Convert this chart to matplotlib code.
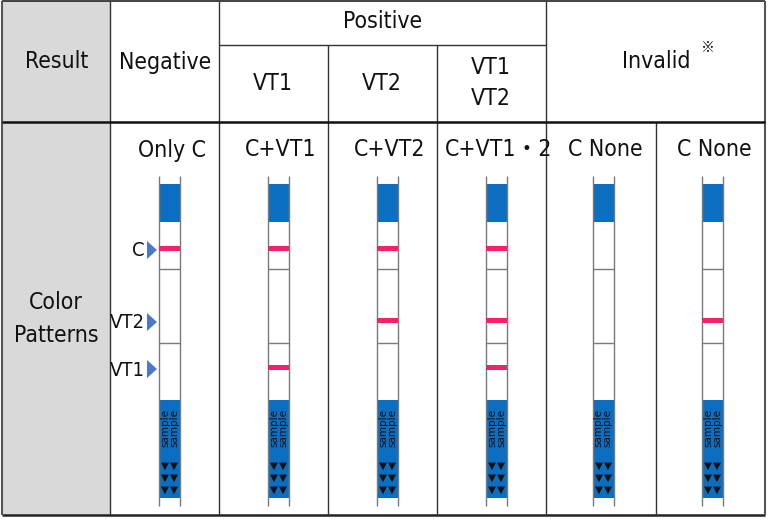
import matplotlib.pyplot as plt
from matplotlib.patches import Rectangle, Polygon

# column layout (pixel edges) and labels
col_edges = [2, 110, 219, 328, 437, 546, 656, 765]
pattern_titles = ['Only C', 'C+VT1', 'C+VT2', 'C+VT1・2', 'C None', 'C None']
# which bands show a line in each strip
pattern_bands = [['C'], ['C', 'VT1'], ['C', 'VT2'], ['C', 'VT2', 'VT1'], [], ['VT2']]
band_names = ['C', 'VT2', 'VT1']
band_y = {'C': 248, 'VT2': 320, 'VT1': 367}

BLUE = '#0b6ec0'
PINK = '#f5216d'
MARK = '#4a78cc'
GREY = '#d9d9d9'
FONT = ['DejaVu Sans', 'Noto Sans CJK JP']

fig = plt.figure(figsize=(7.68, 5.19), dpi=100)
ax = fig.add_axes([0, 0, 1, 1])
ax.set_xlim(0, 768)
ax.set_ylim(519, 0)
ax.axis('off')

top, hdr, bot = 1, 122, 515

# grey first column
ax.add_patch(Rectangle((col_edges[0], top), col_edges[1] - col_edges[0], bot - top,
                       facecolor=GREY, edgecolor='none', zorder=0))

def line(x0, y0, x1, y1, lw=1.0, c='#333333', z=3):
    ax.plot([x0, x1], [y0, y1], color=c, lw=lw, solid_capstyle='butt', zorder=z)

# outer border
line(col_edges[0], top, col_edges[-1], top, 1.2, '#222222')
line(col_edges[0], bot, col_edges[-1], bot, 1.8, '#222222')
line(col_edges[0], top, col_edges[0], bot, 1.5, '#555555')
line(col_edges[-1], top, col_edges[-1], bot, 1.5, '#555555')
# header separator
line(col_edges[0], hdr, col_edges[-1], hdr, 1.8, '#111111', 4)
# vertical grid
for i, x in enumerate(col_edges[1:-1], start=1):
    if i in (3, 4):
        line(x, 45, x, bot)
    elif i == 6:
        line(x, hdr, x, bot)
    else:
        line(x, top, x, bot)
line(col_edges[2], 45, col_edges[5], 45)

def txt(x, y, s, size=16.5, **kw):
    ax.text(x, y, s, fontsize=size, family=FONT, fontstretch='condensed',
            ha='center', va='center', color='#111111', **kw)

# header texts
txt(57, 62, 'Result')
txt(165, 62, 'Negative')
txt(383, 22, 'Positive')
txt(273, 83, 'VT1')
txt(382, 83, 'VT2')
txt(491, 83, 'VT1\nVT2', linespacing=1.45)
txt(656, 62, 'Invalid')
ax.text(708, 48, '※', fontsize=10, ha='center', va='center',
        family=['Noto Sans CJK JP', 'DejaVu Sans'], color='#111111')
txt(56, 319, 'Color\nPatterns', linespacing=1.6)

# strips
strip_w = 21
strip_top, strip_bot = 176, 506
dividers = [269, 343]
for k, (title, bands) in enumerate(zip(pattern_titles, pattern_bands)):
    cx = (col_edges[k + 1] + col_edges[k + 2]) / 2 + 5
    if k >= 4:
        cx -= 3
    x0, x1 = cx - strip_w / 2, cx + strip_w / 2
    txt(cx + 2, 150, title)
    # rails
    line(x0, strip_top, x0, strip_bot, 1.0, '#7a7a7a', 2)
    line(x1, strip_top, x1, strip_bot, 1.0, '#7a7a7a', 2)
    for yd in dividers:
        line(x0, yd, x1, yd, 1.0, '#7a7a7a', 2)
    # top blue pad
    ax.add_patch(Rectangle((x0, 184), strip_w, 38, facecolor=BLUE, edgecolor='none', zorder=1))
    # bottom sample pad
    ax.add_patch(Rectangle((x0, 400), strip_w, 98, facecolor=BLUE, edgecolor='none', zorder=1))
    for dx in (-4.5, 4.5):
        ax.text(cx + dx, 428, 'sample', fontsize=7.5, rotation=90, ha='center', va='center',
                family=FONT, color='#111111', zorder=3)
        for yy in (466, 478, 490):
            ax.text(cx + dx, yy, '▼', fontsize=7.5, ha='center', va='center',
                    family='DejaVu Sans', color='#111111', zorder=3)
    # coloured lines
    for b in bands:
        ax.add_patch(Rectangle((x0, band_y[b] - 2.5), strip_w, 5, facecolor=PINK,
                               edgecolor='none', zorder=2))
    # band markers on the first strip
    if k == 0:
        for b in band_names:
            y = band_y[b] + 2
            ax.add_patch(Polygon([[x0 - 12, y - 9], [x0 - 12, y + 9], [x0 - 2, y]],
                                 closed=True, facecolor=MARK, edgecolor='none', zorder=3))
            ax.text(x0 - 14, y + 1, b, fontsize=14.5, family=FONT, fontstretch='condensed',
                    ha='right', va='center', color='#111111')

fig.savefig('out.png', dpi=100)
